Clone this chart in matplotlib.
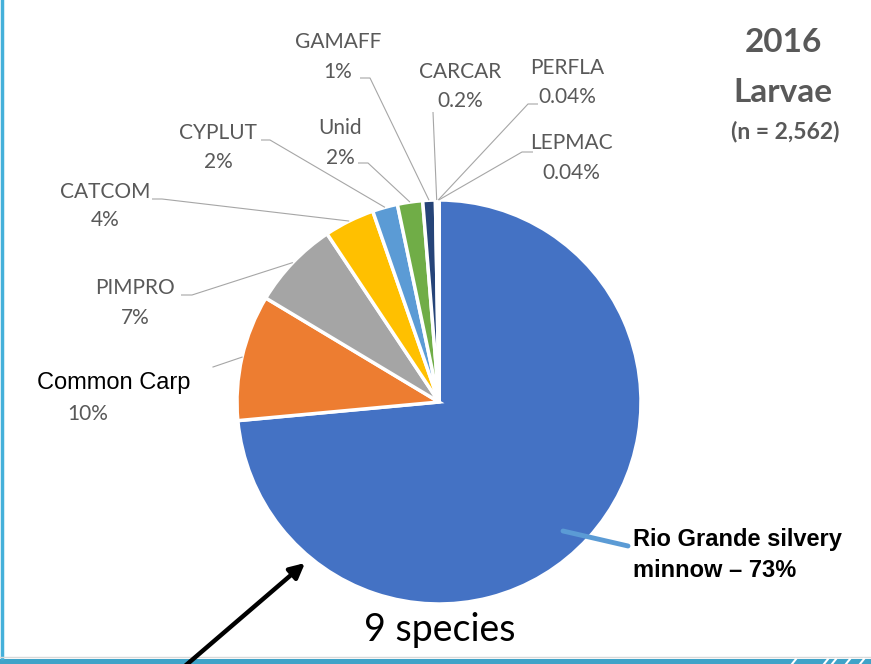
import matplotlib.pyplot as plt
import numpy as np

# 2016 larval fish catch, percent of total (n = 2,562)
species = ["Rio Grande silvery minnow", "Common Carp", "PIMPRO", "CATCOM",
           "CYPLUT", "Unid", "GAMAFF", "CARCAR", "PERFLA", "LEPMAC"]
percent = [73, 10, 7, 4, 2, 2, 1, 0.2, 0.04, 0.04]
pct_text = ["73%", "10%", "7%", "4%", "2%", "2%", "1%", "0.2%", "0.04%", "0.04%"]
colors = ["#4472C4", "#ED7D31", "#A5A5A5", "#FFC000", "#5B9BD5",
          "#70AD47", "#264478", "#9E480E", "#636363", "#997300"]

W, H = 871, 664
GRAY = "#595959"
LEADER = "#A6A6A6"


def py(y):
    # pixel rows are counted from the top
    return H - y


fig = plt.figure(figsize=(W / 100, H / 100), dpi=100)
ax = fig.add_axes([0, 0, 1, 1])

cx, cy, r = 439, py(402), 202
wedges, _ = ax.pie(percent, colors=colors, startangle=90, counterclock=False,
                   radius=r, center=(cx, cy), frame=True,
                   wedgeprops=dict(edgecolor="white", linewidth=2.5))
ax.set_xlim(0, W)
ax.set_ylim(0, H)
ax.set_aspect("equal")
ax.axis("off")


def edge_point(w):
    a = np.deg2rad((w.theta1 + w.theta2) / 2)
    return cx + r * np.cos(a), cy + r * np.sin(a)


# small labels: name centre x, name y, pct y, text-side anchor, elbow
small = {
    2: (135, 288, 318, (181, 295), (192, 295)),
    3: (105, 192, 220, (152, 199), (162, 199)),
    4: (218, 133, 162, (261, 140), (270, 140)),
    5: (340, 128, 158, (358, 163), (368, 163)),
    6: (338, 42, 72, (360, 78), (370, 78)),
    7: (460, 72, 101, (433, 112), (433, 112)),
    8: (567, 68, 97, (538, 104), (528, 104)),
    9: (571, 143, 173, (533, 152), (522, 152)),
}
for i, (x, yn, yp, anchor, elbow) in small.items():
    ax.text(x, py(yn), species[i], ha="center", va="center", fontsize=15,
            family="Lato", color=GRAY)
    ax.text(x, py(yp), pct_text[i], ha="center", va="center", fontsize=15,
            family="Lato", color=GRAY)
    ex, ey = edge_point(wedges[i])
    ax.plot([anchor[0], elbow[0], ex], [py(anchor[1]), py(elbow[1]), ey],
            color=LEADER, lw=0.8, solid_capstyle="butt")

# Common Carp
ax.text(114, py(383), species[1], ha="center", va="center", fontsize=17,
        family=["Liberation Sans", "DejaVu Sans"], color="black")
ax.text(88, py(414), pct_text[1], ha="center", va="center", fontsize=15,
        family="Lato", color=GRAY)
ex, ey = edge_point(wedges[1])
ax.plot([213, ex], [py(367), ey], color=LEADER, lw=0.8)

# Rio Grande silvery minnow
ax.plot([563, 628], [py(531), py(546)], color="#5B9BD5", lw=3.5,
        solid_capstyle="round")
ax.text(633, py(555), "Rio Grande silvery\nminnow \u2013 " + pct_text[0],
        ha="left", va="center", fontsize=17, fontweight="bold",
        linespacing=1.45,
        family=["Liberation Sans Narrow", "Liberation Sans", "DejaVu Sans"],
        color="black")

# title block
ax.text(783, py(42), "2016", ha="center", va="center", fontsize=24,
        fontweight="bold", family="Lato", color=GRAY)
ax.text(783, py(92), "Larvae", ha="center", va="center", fontsize=24,
        fontweight="bold", family="Lato", color=GRAY)
ax.text(785, py(131), "(n = 2,562)", ha="center", va="center", fontsize=16.5,
        fontweight="bold", family="Lato", color=GRAY)

ax.text(440, py(630), "9 species", ha="center", va="center", fontsize=27,
        family="Lato", color="black")

# slide frame
ax.plot([1.5, 1.5], [py(658), H], color="#45B0DA", lw=2.5)
ax.plot([0, W], [py(657), py(657)], color="#D9D9D9", lw=1)
ax.fill_between([0, W], [0, 0], [py(659), py(659)], color="#3FA3C8", lw=0)
for sx in (792, 824, 832, 846, 860):
    ax.plot([sx, sx + 4], [0, py(659)], color="white", lw=1.5)

ax.annotate("", xy=(305, py(563)), xytext=(185, py(666)),
            arrowprops=dict(arrowstyle="-|>", color="black", lw=3.2,
                            mutation_scale=22, shrinkA=0, shrinkB=0),
            annotation_clip=False)

fig.savefig("out.png", dpi=100)
